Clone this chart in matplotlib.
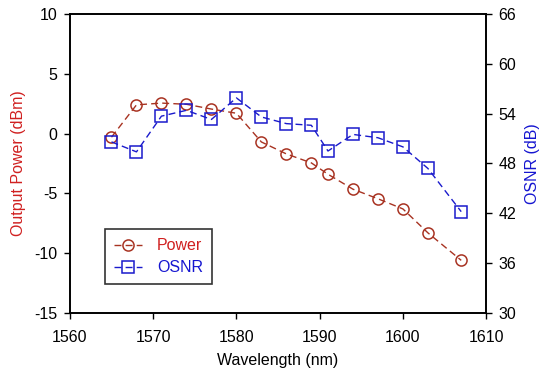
import matplotlib
matplotlib.use("Agg")
import matplotlib.pyplot as plt

plt.rcParams['font.family'] = ['Liberation Sans', 'DejaVu Sans']
plt.rcParams['axes.unicode_minus'] = False

# data
wavelength = [1565, 1568, 1571, 1574, 1577, 1580, 1583, 1586, 1589, 1591, 1594, 1597, 1600, 1603, 1607]
power = [-0.3, 2.4, 2.55, 2.45, 2.05, 1.7, -0.7, -1.7, -2.45, -3.4, -4.65, -5.45, -6.3, -8.3, -10.6]
osnr = [50.6, 49.4, 53.7, 54.4, 53.3, 55.9, 53.6, 52.8, 52.6, 49.5, 51.5, 51.1, 50.0, 47.4, 42.2]

red = '#a83322'
blue = '#1a1acc'
fs = 11.5

fig = plt.figure(figsize=(5.5, 3.78), dpi=100)
ax = fig.add_axes([0.127, 0.172, 0.757, 0.791])
ax2 = ax.twinx()

l1, = ax.plot(wavelength, power, linestyle=(0, (5, 3)), color=red, lw=1,
              marker='o', markersize=8, markerfacecolor='none',
              markeredgecolor=red, markeredgewidth=1.1, label='Power')
l2, = ax2.plot(wavelength, osnr, linestyle=(0, (5, 3)), color=blue, lw=1,
               marker='s', markersize=8, markerfacecolor='none',
               markeredgecolor=blue, markeredgewidth=1.1, label='OSNR')

ax.set_xlim(1560, 1610)
ax.set_ylim(-15, 10)
ax2.set_ylim(30, 66)
ax.set_xticks(range(1560, 1611, 10))
ax.set_yticks(range(-15, 11, 5))
ax2.set_yticks(range(30, 67, 6))

ax.set_xlabel('Wavelength (nm)', fontsize=fs, labelpad=6)
ax.set_ylabel('Output Power (dBm)', fontsize=fs, color='#d02020', labelpad=6)
ax2.set_ylabel('OSNR (dB)', fontsize=fs, color='#1515d0', labelpad=6)

for a in (ax, ax2):
    a.tick_params(direction='out', length=4, width=1, labelsize=fs)
    for s in a.spines.values():
        s.set_linewidth(1.2)
ax.tick_params(axis='x', pad=8)
ax.tick_params(axis='y', pad=5)
ax2.tick_params(axis='y', pad=5)

leg = ax.legend(handles=[l1, l2], loc='lower left', bbox_to_anchor=(0.065, 0.07),
                fontsize=fs, frameon=True, fancybox=False, edgecolor='black',
                handlelength=1.8, handletextpad=0.9, borderpad=0.55, labelspacing=0.45)
leg.get_frame().set_linewidth(1.2)
leg.get_texts()[0].set_color('#d02020')
leg.get_texts()[1].set_color('#1515d0')

fig.savefig('out.png', dpi=100)
